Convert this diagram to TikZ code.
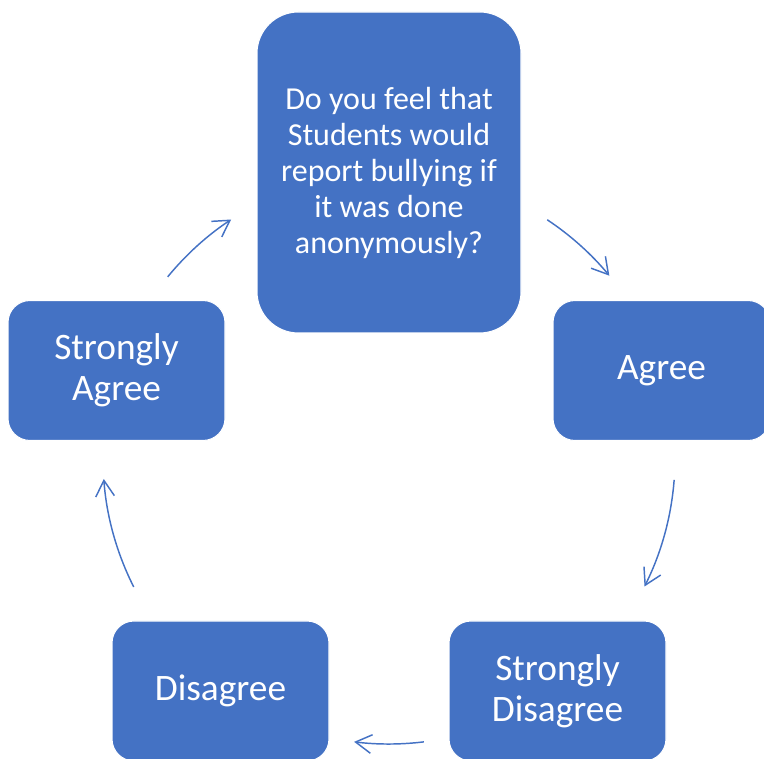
\documentclass[tikz,border=0pt]{standalone}
\usepackage{fontspec}
\setmainfont{Carlito}
\usetikzlibrary{arrows.meta,calc}
\definecolor{accent}{HTML}{4472C4}
\begin{document}
\begin{tikzpicture}[x=0.75pt,y=0.75pt,
  box/.style={rectangle, draw=white, line width=0.8pt, fill=accent,
    text=white, align=center, rounded corners=16.5pt,
    minimum width=162.75pt, minimum height=105pt, inner sep=0pt,
    font=\fontsize{28}{31}\selectfont},
  topbox/.style={box, minimum width=198pt, minimum height=240.75pt,
    rounded corners=31pt, font=\fontsize{24}{27}\selectfont},
  cyc/.style={draw=accent, line width=1.1pt,
    -{Straight Barb[length=12pt,width=14pt,line width=1.1pt]}}]
\useasboundingbox (0,0) rectangle (764,759);
% ring centre and radius of the cycle
\coordinate (c) at (389,301);
\def\R{286}
% steps of the cycle
\node[topbox] (q) at (389,586.5) {Do you feel that\\Students would\\report bullying if\\it was done\\anonymously?};
\node[box] (agree) at (661.5,388.5) {Agree};
\node[box] (sdis) at (557.5,68) {Strongly\\Disagree};
\node[box] (dis) at (220.5,68) {Disagree};
\node[box] (sagree) at (116.5,388.5) {Strongly\\Agree};
% arcs of the ring between the steps
\draw[cyc] ($(c)+(56.4:\R)$) arc[start angle=56.4, end angle=39.6, radius=\R];
\draw[cyc] ($(c)+(-4.4:\R)$) arc[start angle=-4.4, end angle=-26.7, radius=\R];
\draw[cyc] ($(c)+(-83:\R)$) arc[start angle=-83, end angle=-97, radius=\R];
\draw[cyc] ($(c)+(-153.2:\R)$) arc[start angle=-153.2, end angle=-175.8, radius=\R];
\draw[cyc] ($(c)+(140.7:\R)$) arc[start angle=140.7, end angle=123.5, radius=\R];
\end{tikzpicture}
\end{document}
